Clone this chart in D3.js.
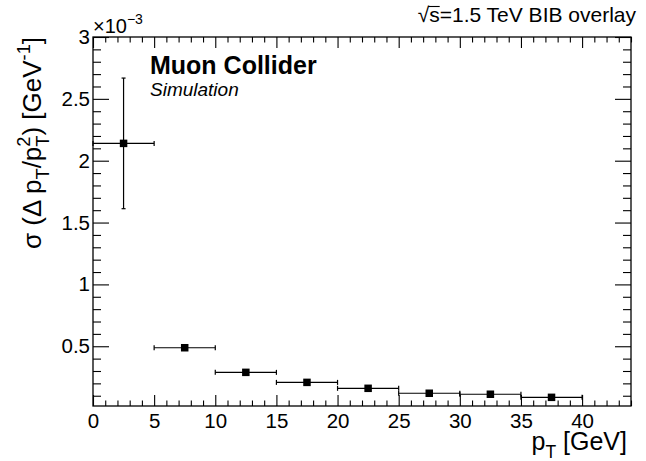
<!DOCTYPE html>
<html><head><meta charset="utf-8">
<script src="https://cdn.jsdelivr.net/npm/d3@7"></script>
<style>body{margin:0;background:#fff}svg{display:block}</style>
</head><body><svg id="c" width="646" height="461"></svg>
<script>
// ---- data (sigma values in units of 1e-3 GeV^-1) ----
const binLow  = [0, 5, 10, 15, 20, 25, 30, 35];
const binHigh = [5, 10, 15, 20, 25, 30, 35, 40];
const sigma    = [2.14, 0.488, 0.289, 0.208, 0.160, 0.120, 0.112, 0.087];
const sigmaErr = [0.528, 0.012, 0.008, 0.006, 0.005, 0.004, 0.004, 0.004];
const xMajorTicks = [0, 5, 10, 15, 20, 25, 30, 35, 40];
const xTickLabels = ["0", "5", "10", "15", "20", "25", "30", "35", "40"];
const yMajorTicks = [0.5, 1, 1.5, 2, 2.5, 3];
const yTickLabels = ["0.5", "1", "1.5", "2", "2.5", "3"];

const FONT = "'Liberation Sans', Arial, Helvetica, sans-serif";
const svg = d3.select("#c");
svg.append("rect").attr("width", 646).attr("height", 461).attr("fill", "#fff");

const F = {left: 93, right: 631, top: 37, bottom: 406};
const x = d3.scaleLinear().domain([0, 44]).range([F.left, F.right]);
const y = d3.scaleLinear().domain([0.017, 3]).range([F.bottom, F.top]);

const xMinor = d3.range(0, 45, 1).filter(v => v % 5 !== 0);
const yMinor = d3.range(1, 30, 1).map(v => v / 10).filter(v => Math.round(v * 10) % 5 !== 0);

function styleAxis(g, fs) {
  g.select(".domain").remove();
  g.selectAll(".tick line").attr("stroke", "#000").attr("stroke-width", 1.1);
  g.selectAll(".tick text").attr("font-family", FONT).attr("font-size", fs).attr("fill", "#000");
}

// bottom
svg.append("g").attr("transform", `translate(0,${F.bottom})`)
  .call(d3.axisBottom(x).tickValues(xMajorTicks).tickSizeInner(-11).tickSizeOuter(0).tickPadding(7)
    .tickFormat((d, i) => xTickLabels[i])).call(g => styleAxis(g, 20.5));
svg.append("g").attr("transform", `translate(0,${F.bottom})`)
  .call(d3.axisBottom(x).tickValues(xMinor).tickSize(-5.5).tickFormat("")).call(g => styleAxis(g, 10));
// top
svg.append("g").attr("transform", `translate(0,${F.top})`)
  .call(d3.axisTop(x).tickValues(xMajorTicks).tickSize(-11).tickFormat("")).call(g => styleAxis(g, 10));
svg.append("g").attr("transform", `translate(0,${F.top})`)
  .call(d3.axisTop(x).tickValues(xMinor).tickSize(-5.5).tickFormat("")).call(g => styleAxis(g, 10));
// left
svg.append("g").attr("transform", `translate(${F.left},0)`)
  .call(d3.axisLeft(y).tickValues(yMajorTicks).tickSizeInner(-16).tickSizeOuter(0).tickPadding(3)
    .tickFormat((d, i) => yTickLabels[i])).call(g => styleAxis(g, 20.5));
svg.append("g").attr("transform", `translate(${F.left},0)`)
  .call(d3.axisLeft(y).tickValues(yMinor).tickSize(-8).tickFormat("")).call(g => styleAxis(g, 10));
// right
svg.append("g").attr("transform", `translate(${F.right},0)`)
  .call(d3.axisRight(y).tickValues(yMajorTicks).tickSize(-16).tickFormat("")).call(g => styleAxis(g, 10));
svg.append("g").attr("transform", `translate(${F.right},0)`)
  .call(d3.axisRight(y).tickValues(yMinor).tickSize(-8).tickFormat("")).call(g => styleAxis(g, 10));

// frame
svg.append("rect").attr("x", F.left).attr("y", F.top)
  .attr("width", F.right - F.left).attr("height", F.bottom - F.top)
  .attr("fill", "none").attr("stroke", "#000").attr("stroke-width", 1.3);

// data
const pts = sigma.map((v, i) => ({lo: binLow[i], hi: binHigh[i], c: (binLow[i] + binHigh[i]) / 2, v, e: sigmaErr[i]}));
const dg = svg.append("g").attr("stroke", "#000").attr("stroke-width", 1.2);
pts.forEach(p => {
  dg.append("line").attr("x1", x(p.lo)).attr("x2", x(p.hi)).attr("y1", y(p.v)).attr("y2", y(p.v));
  [p.lo, p.hi].forEach(b => dg.append("line").attr("x1", x(b)).attr("x2", x(b))
    .attr("y1", y(p.v) - 2.5).attr("y2", y(p.v) + 2.5));
  dg.append("line").attr("x1", x(p.c)).attr("x2", x(p.c)).attr("y1", y(p.v - p.e)).attr("y2", y(p.v + p.e));
  [p.v - p.e, p.v + p.e].forEach(b => dg.append("line").attr("x1", x(p.c) - 2).attr("x2", x(p.c) + 2)
    .attr("y1", y(b)).attr("y2", y(b)));
});
svg.append("g").selectAll("rect").data(pts).join("rect")
  .attr("x", d => x(d.c) - 3.75).attr("y", d => y(d.v) - 3.75)
  .attr("width", 7.5).attr("height", 7.5).attr("fill", "#000");

// rich text helper
function rich(g, segs, base) {
  let xpos = 0, prev = null;
  segs.forEach(sg => {
    const fs = base * (sg.s || 1);
    const t = g.append("text").attr("font-family", FONT).attr("font-size", fs)
      .attr("font-weight", sg.w || "normal").attr("font-style", sg.i || "normal")
      .attr("xml:space", "preserve").style("white-space", "pre")
      .attr("fill", "#000").text(sg.t);
    const w = t.node().getComputedTextLength();
    const x0 = (sg.stack && prev) ? prev.x0 : xpos;
    t.attr("x", x0).attr("y", (sg.dy || 0) * base);
    const end = x0 + w;
    xpos = (sg.stack && prev) ? Math.max(prev.end, end) : end + (sg.gap || 0);
    prev = {x0, end};
  });
  return xpos;
}

// y title
{
  const g = svg.append("g");
  const w = rich(g, [
    {t: "σ (Δ p"}, {t: "T", s: 0.7, dy: 0.3}, {t: "/p", gap: 0}, {t: "T", s: 0.7, dy: 0.3},
    {t: "2", s: 0.7, dy: -0.42, stack: true, gap: 1}, {t: ") [GeV"}, {t: "-1", s: 0.7, dy: -0.42}, {t: "]"}
  ], 26);
  g.attr("transform", `translate(41,37) rotate(-90) translate(${-w},0)`);
}
// x title
{
  const g = svg.append("g");
  const w = rich(g, [{t: "p"}, {t: "T", s: 0.7, dy: 0.3}, {t: "\u00A0[GeV]"}], 25);
  g.attr("transform", `translate(${627 - w},450)`);
}
// exponent
{
  const g = svg.append("g");
  rich(g, [{t: "×10"}, {t: "−3", s: 0.7, dy: -0.45}], 20);
  g.attr("transform", `translate(93,33)`);
}
// energy label
{
  const g = svg.append("g");
  const w = rich(g, [{t: "√"}, {t: "s=1.5 TeV BIB overlay"}], 21);
  g.attr("transform", `translate(${636 - w},22)`);
  const tx = g.selectAll("text").nodes();
  const sx = +tx[1].getAttribute("x");
  const sw = tx[1].getSubStringLength(0, 1);
  g.append("line").attr("x1", sx - 1).attr("x2", sx + sw).attr("y1", -15.5).attr("y2", -15.5)
    .attr("stroke", "#000").attr("stroke-width", 1.1);
}
// labels
svg.append("text").attr("x", 150).attr("y", 74).attr("font-family", FONT).attr("font-weight", "bold")
  .attr("font-size", 25).attr("fill", "#000").text("Muon Collider");
svg.append("text").attr("x", 150).attr("y", 96).attr("font-family", FONT).attr("font-style", "italic")
  .attr("font-size", 19).attr("fill", "#000").text("Simulation");
</script></body></html>
